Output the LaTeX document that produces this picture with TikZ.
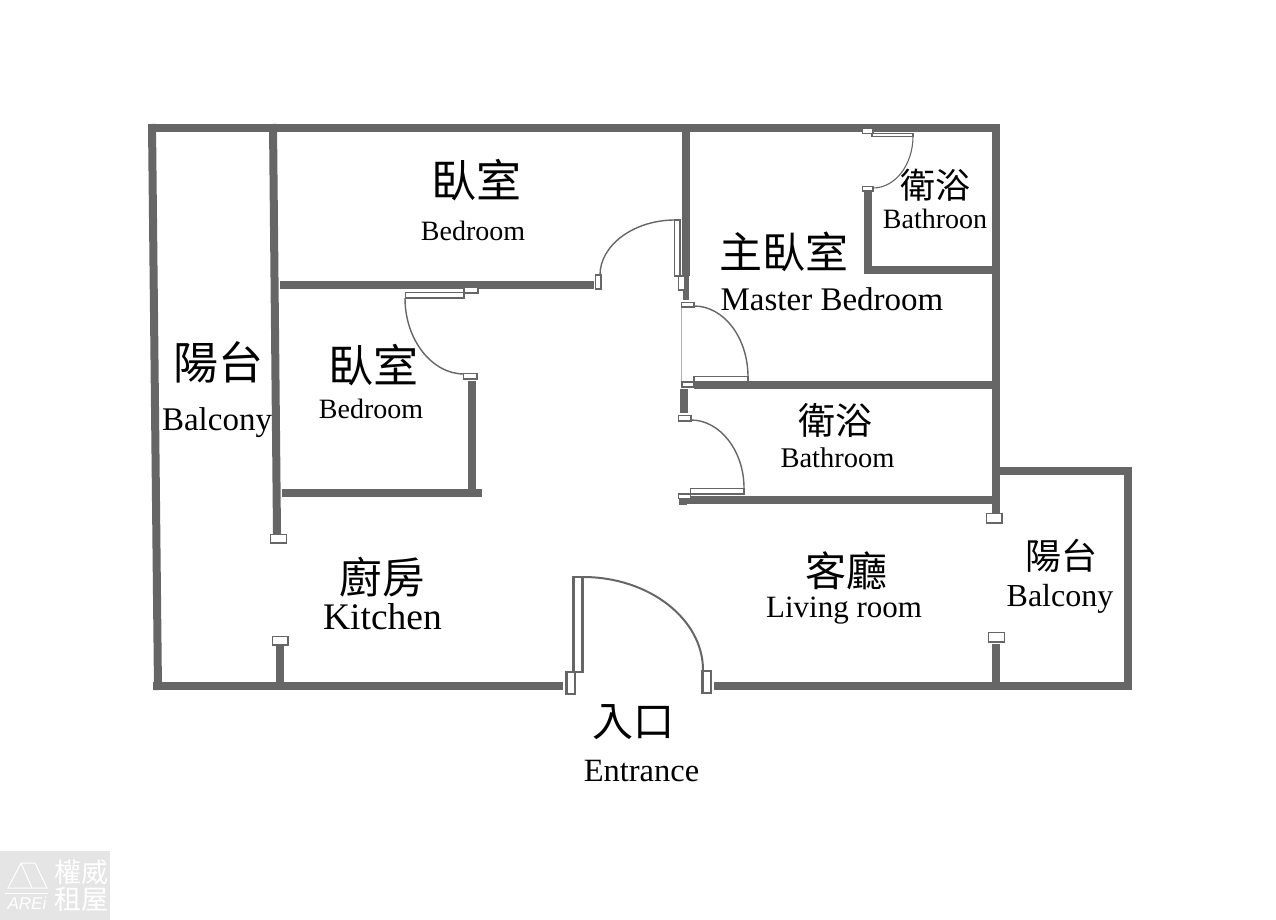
\documentclass[tikz,border=0pt]{standalone}
\usepackage{fontspec}
\setmainfont{Liberation Serif}
\setsansfont{Liberation Sans}
\newfontfamily\cjk{Noto Sans CJK TC}
\definecolor{drawColor}{gray}{0.40}
\definecolor{markColor}{gray}{0.90}
\tikzset{
  wall/.style={draw=drawColor,line width=8pt},
  doorpart/.style={draw=drawColor,fill=white,line width=1.8pt},
  swing/.style={draw=drawColor,line width=1.4pt},
  zhlabel/.style={text=black,anchor=center,inner sep=0pt,outer sep=0pt,font=\cjk},
  enlabel/.style={text=black,anchor=base,inner sep=0pt,outer sep=0pt},
  marktext/.style={text=white,anchor=center,inner sep=0pt,outer sep=0pt,font=\cjk}
}
\begin{document}
\begin{tikzpicture}[x=1pt,y=-1pt]
\path[use as bounding box,fill=white] (0,0) rectangle (1276,920);

% outer walls
\path[wall] (152,128) -- (1000,128);
\path[wall] (996,124) -- (996,513);
\path[wall] (1000,471) -- (1128,471);
\path[wall] (1128,467) -- (1128,690);
\path[wall] (714,686) -- (1132,686);
\path[wall] (153,686) -- (563,686);
\path[wall] (152,124) -- (158,690);

% inner walls
\path[wall] (273,124) -- (277,534);
\path[wall] (280,285) -- (594,285);
\path[wall] (282,493) -- (482,493);
\path[wall] (472,381) -- (472,497);
\path[wall] (279.5,645) -- (279.5,682);
\path[wall] (686,132) -- (686,276);
\path[wall,line width=6pt] (686,276) -- (686,300);
\path[wall] (694,384.5) -- (992,384.5);
\path[wall] (683.5,389) -- (683.5,413);
\path[wall] (687,500) -- (992,500);
\path[wall] (683,498) -- (683,505);
\path[wall] (868,192) -- (868,274);
\path[wall] (872,270) -- (992,270);
\path[wall] (996,644) -- (996,682);

% thin line in the master bedroom doorway
\path[draw=drawColor!50,line width=0.8pt] (681,307) -- (681,382);

% door jambs and leaves
\path[doorpart] (270.5,534.5) rectangle (286.5,543);
\path[doorpart] (272.5,636.5) rectangle (288,645);
\path[doorpart] (986.5,513.5) rectangle (1002,523);
\path[doorpart] (988.5,632.5) rectangle (1004.5,642);
\path[doorpart] (595.5,275) rectangle (601,289);
\path[doorpart] (674.5,220) rectangle (680,276);
\path[doorpart] (678.5,276) rectangle (684.5,290);
\path[doorpart] (681.5,302.5) rectangle (694,307);
\path[doorpart] (694,376.5) rectangle (748,382);
\path[doorpart] (682,382) rectangle (694,387);
\path[doorpart] (678.5,415.5) rectangle (691,421);
\path[doorpart] (690.5,488.5) rectangle (744,494);
\path[doorpart] (678.5,494) rectangle (690.5,498.5);
\path[doorpart] (405.5,292.5) rectangle (464,298);
\path[doorpart] (464,287) rectangle (478,293);
\path[doorpart] (463.5,373.5) rectangle (477,379);
\path[doorpart,line width=1.3pt] (862.5,128.5) rectangle (873,133.5);
\path[doorpart,line width=1.3pt] (872,133.5) rectangle (913,136.5);
\path[doorpart,line width=1.3pt] (862.5,186.5) rectangle (873,191);
\path[doorpart,line width=2.4pt] (573.5,577) rectangle (582.5,672);
\path[doorpart,line width=2.4pt] (566.5,672) rectangle (575,694);
\path[doorpart,line width=2.4pt] (702.5,671) rectangle (711,693);

% door swings
\path[swing] (600,275) .. controls (600,245) and (634,220) .. (675,220);
\path[swing] (694,306) .. controls (724,306) and (748,338) .. (748,377);
\path[swing] (691,420) .. controls (720,420) and (744,451) .. (744,488);
\path[swing] (405,298) .. controls (405,340) and (432,374) .. (464,374);
\path[swing,line width=1.1pt] (913,136) .. controls (913,165) and (895,188) .. (873,188);
\path[swing,line width=2pt] (583,577) .. controls (649,577) and (703,619) .. (703,670);

% room names
\node[zhlabel,scale=4.5] (bedTopZh) at (476,180) {臥室};
\node[enlabel,scale=2.8] (bedTopEn) at (473,240) {Bedroom};
\node[zhlabel,scale=4.5] (bedLowZh) at (373,365) {臥室};
\node[enlabel,scale=2.8] (bedLowEn) at (371,418) {Bedroom};
\node[zhlabel,scale=4.5] (balLeftZh) at (218,362) {陽台};
\node[enlabel,scale=3.3] (balLeftEn) at (217,430) {Balcony};
\node[zhlabel,scale=4.3] (masterZh) at (784,252) {主臥室};
\node[enlabel,scale=3.3] (masterEn) at (832,310) {Master Bedroom};
\node[zhlabel,scale=3.5] (bathTopZh) at (935,185) {衛浴};
\node[enlabel,scale=2.8] (bathTopEn) at (935,228) {Bathroon};
\node[zhlabel,scale=3.7] (bathMidZh) at (835,420) {衛浴};
\node[enlabel,scale=2.85] (bathMidEn) at (837.5,467) {Bathroom};
\node[zhlabel,scale=4.25] (kitchenZh) at (382,577) {廚房};
\node[enlabel,scale=3.75] (kitchenEn) at (382.5,629) {Kitchen};
\node[zhlabel,scale=4.1] (livingZh) at (846,571) {客廳};
\node[enlabel,scale=3.1] (livingEn) at (844,617) {Living room};
\node[zhlabel,scale=3.6] (balRightZh) at (1061,556) {陽台};
\node[enlabel,scale=3.2] (balRightEn) at (1060,606) {Balcony};
\node[zhlabel,scale=4.1] (entryZh) at (633,722) {入口};
\node[enlabel,scale=3.25] (entryEn) at (641.5,781) {Entrance};

% corner mark
\path[fill=markColor] (0,851) rectangle (110,920);
\path[draw=white,line width=1pt] (8,888) -- (21,863) -- (35,863) -- (47,888) -- cycle;
\path[draw=white,line width=1pt] (21,863) -- (32,888);
\path[draw=white,line width=1pt] (5,893) -- (48,893);
\node[text=white,anchor=center,inner sep=0pt,outer sep=0pt,font=\sffamily\itshape,scale=1.7] (markEn) at (27,903) {AREi};
\node[marktext,scale=2.7] (markTop) at (81,872) {權威};
\node[marktext,scale=2.7] (markLow) at (81,899) {租屋};
\end{tikzpicture}
\end{document}
